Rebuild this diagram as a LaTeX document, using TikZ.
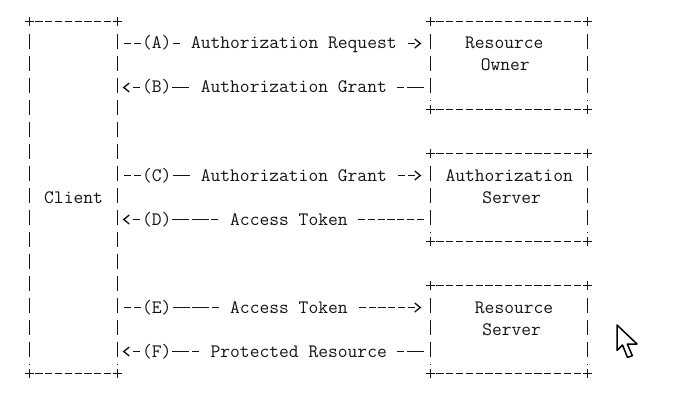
\documentclass[tikz,border=0pt]{standalone}
\usetikzlibrary{arrows.meta}
\definecolor{ink}{HTML}{141414}
\newlength\chw
% font size giving a character cell of 9.79pt
\AtBeginDocument{%
  \settowidth\chw{\fontsize{18}{20}\selectfont\ttfamily M}%
  \pgfmathsetmacro\tsize{18*9.79/\chw}%
  \global\let\tsize\tsize}
% character grid: column c centred at 29.3+9.79c, row r at 21.5+22r
\newcommand\tlabel[4]{\node[txt] (#1) at ({29.3+9.79*(#2)-4.895},{21.5+22*(#3)+5.5}) {#4};}
\newcommand\plusat[1]{\draw[ln] (#1) +(-4.5,0) -- +(4.5,0) (#1) +(0,-4.5) -- +(0,4.5);}
\newcommand\asciibox[1]{%
  \draw[hbar] (#1.north west) -- (#1.north east);
  \draw[hbar] (#1.south west) -- (#1.south east);
  \draw[vbar] (#1.north west) -- (#1.south west);
  \draw[vbar] (#1.north east) -- (#1.south east);
  \plusat{#1.north west}\plusat{#1.north east}\plusat{#1.south west}\plusat{#1.south east}}
\begin{document}
\begin{tikzpicture}[x=1pt,y=-1pt,
  ln/.style={draw=ink,line width=1.35pt},
  hbar/.style={ln,dash pattern=on 7.2pt off 2.59pt,dash phase=3.6pt},
  vbar/.style={ln,line width=1.45pt,dash pattern=on 15.5pt off 6.5pt,dash phase=15.5pt,shorten <=6pt,shorten >=9.5pt},
  box/.style={rectangle,inner sep=0pt,draw=none},
  conn/.style={ln,-{Straight Barb[length=5.5pt,width=9pt]}},
  txt/.style={font=\fontsize{\tsize}{\tsize}\selectfont\ttfamily,inner sep=0pt,anchor=base west,text=ink}]
\fill[white] (0,0) rectangle (679,401);
\useasboundingbox (0,0) rectangle (679,401);

% boxes
\node[box,minimum width=88pt,minimum height=352pt] (client) at (73.5,197.5) {};
\node[box,minimum width=157pt,minimum height=88pt] (ro) at (509,65.5) {};
\node[box,minimum width=157pt,minimum height=88pt] (as) at (509,197.5) {};
\node[box,minimum width=157pt,minimum height=88pt] (rs) at (509,329.5) {};
\asciibox{client}
\asciibox{ro}
\asciibox{as}
\asciibox{rs}

% box texts
\tlabel{tclient}{2}{8}{Client}
\tlabel{tro1}{45}{1}{Resource}
\tlabel{tro2}{46.6}{2}{Owner}
\tlabel{tas1}{43}{7}{Authorization}
\tlabel{tas2}{46.75}{8}{Server}
\tlabel{trs1}{46}{13}{Resource}
\tlabel{trs2}{46.75}{14}{Server}

% rows of the flows
\coordinate (rA) at (0,{21.5+22*1});
\coordinate (rB) at (0,{21.5+22*3});
\coordinate (rC) at (0,{21.5+22*7});
\coordinate (rD) at (0,{21.5+22*9});
\coordinate (rE) at (0,{21.5+22*13});
\coordinate (rF) at (0,{21.5+22*15});

% flows
\draw[conn,shorten >=9pt,dash pattern=on 0pt off 6.1pt on 7.2pt off 2.59pt on 7.2pt off 31.96pt on 7.2pt off 227.76pt on 7.2pt off 50pt]
  (client.east |- rA) -- (ro.west |- rA);
\draw[conn,shorten >=5pt,dash pattern=on 0pt off 6.38pt on 16.99pt off 2.59pt on 7.2pt off 208.18pt on 16.99pt off 31.96pt on 7.2pt off 50pt]
  (ro.west |- rB) -- (client.east |- rB);
\draw[conn,shorten >=9pt,dash pattern=on 0pt off 6.1pt on 7.2pt off 2.59pt on 7.2pt off 31.96pt on 16.99pt off 208.18pt on 7.2pt off 2.59pt on 7.2pt off 50pt]
  (client.east |- rC) -- (as.west |- rC);
\draw[conn,shorten >=5pt,dash pattern=on 0pt off 6.38pt on 7.2pt off 2.59pt on 7.2pt off 2.59pt on 7.2pt off 2.59pt on 7.2pt off 2.59pt on 7.2pt off 2.59pt on 7.2pt off 2.59pt on 7.2pt off 139.65pt on 7.2pt off 2.59pt on 16.99pt off 2.59pt on 16.99pt off 31.96pt on 7.2pt off 50pt]
  (as.west |- rD) -- (client.east |- rD);
\draw[conn,shorten >=9pt,dash pattern=on 0pt off 6.1pt on 7.2pt off 2.59pt on 7.2pt off 31.96pt on 16.99pt off 2.59pt on 16.99pt off 2.59pt on 7.2pt off 139.65pt on 7.2pt off 2.59pt on 7.2pt off 2.59pt on 7.2pt off 2.59pt on 7.2pt off 2.59pt on 7.2pt off 2.59pt on 7.2pt off 50pt]
  (client.east |- rE) -- (rs.west |- rE);
\draw[conn,shorten >=5pt,dash pattern=on 0pt off 6.38pt on 16.99pt off 2.59pt on 7.2pt off 198.39pt on 7.2pt off 2.59pt on 16.99pt off 31.96pt on 7.2pt off 50pt]
  (rs.west |- rF) -- (client.east |- rF);

% flow labels
\tlabel{lA}{12}{1}{(A)}
\tlabel{mA}{17}{1}{Authorization Request}
\tlabel{lB}{12}{3}{(B)}
\tlabel{mB}{18}{3}{Authorization Grant}
\tlabel{lC}{12}{7}{(C)}
\tlabel{mC}{18}{7}{Authorization Grant}
\tlabel{lD}{12}{9}{(D)}
\tlabel{mD}{21}{9}{Access Token}
\tlabel{lE}{12}{13}{(E)}
\tlabel{mE}{21}{13}{Access Token}
\tlabel{lF}{12}{15}{(F)}
\tlabel{mF}{19}{15}{Protected Resource}

% mouse pointer
\draw[draw=black,line width=1.5pt,fill=white,line join=round]
  (617,325) -- (617,350.5) -- (622.5,345) -- (627.5,357.5) -- (632.3,355.6) -- (627.3,344) -- (637,344) -- cycle;
\end{tikzpicture}
\end{document}
